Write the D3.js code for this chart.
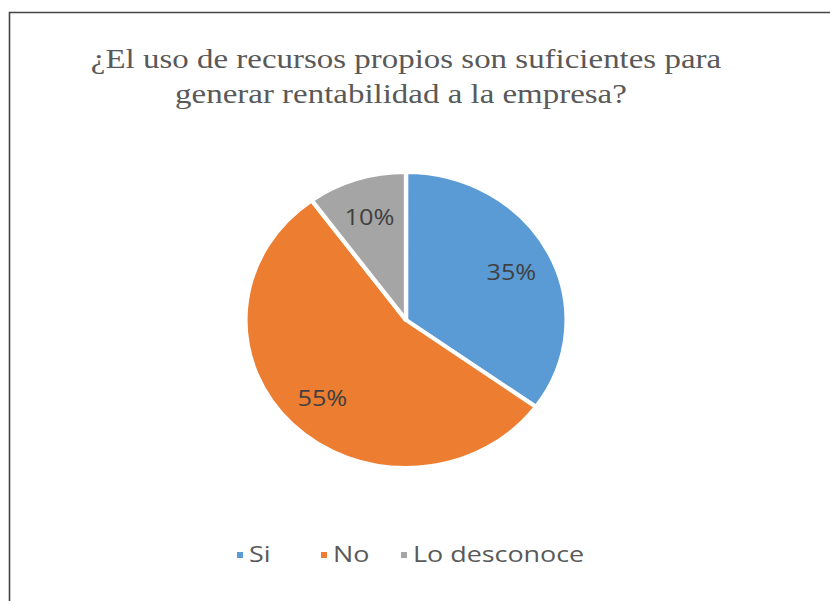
<!DOCTYPE html>
<html lang="es">
<head>
<meta charset="UTF-8">
<title>Recursos propios y rentabilidad</title>
<script src="https://d3js.org/d3.v7.min.js"></script>
<style>
  html, body { margin: 0; padding: 0; background: #fff; }
  .title { font-family: 'Liberation Serif', 'Times New Roman', serif; font-size: 27px; fill: #595959; }
  .lbl { font-family: 'Open Sans', sans-serif; font-size: 22px; fill: #404040; }
  .legend text { font-family: 'Open Sans', sans-serif; font-size: 21px; fill: #595959; }
</style>
</head>
<body>
<svg width="830" height="601"></svg>
<script>
  const categories = ["Si", "No", "Lo desconoce"];
  const values = [35, 55, 10];
  const colors = ["#5b9bd5", "#ed7d31", "#a5a5a5"];
  const titleLines = ["¿El uso de recursos propios son suficientes para",
                      "generar rentabilidad a la empresa?"];

  const svg = d3.select("svg");

  // frame (only left and top edges show in the picture)
  svg.append("path")
    .attr("d", "M9.5,601 L9.5,12.5 L830,12.5")
    .attr("fill", "none")
    .attr("stroke", "#444")
    .attr("stroke-width", 1.6);

  // the source picture is stretched sideways, text more than the pie
  function stretch(sel, k) {
    sel.each(function() {
      const w = this.getComputedTextLength();
      d3.select(this).attr("textLength", w * k).attr("lengthAdjust", "spacingAndGlyphs");
    });
  }

  // title
  svg.selectAll(".title")
    .data(titleLines)
    .join("text")
    .attr("class", "title")
    .attr("text-anchor", "middle")
    .attr("x", (d, i) => i ? 401 : 406)
    .attr("y", (d, i) => 68 + i * 35)
    .text(d => d)
    .call(stretch, 1.22);

  // pie
  const cx = 406, cy = 320, r = 148, sx = 1.085;
  const pie = d3.pie().sort(null).value(d => d.v);
  const arcs = pie(categories.map((c, i) => ({ c: c, v: values[i] })));
  const arc = d3.arc().innerRadius(0).outerRadius(r);
  const labelArc = d3.arc().innerRadius(109).outerRadius(109);

  svg.append("g")
    .attr("transform", `translate(${cx},${cy}) scale(${sx},1)`)
    .selectAll("path")
    .data(arcs)
    .join("path")
    .attr("d", arc)
    .attr("fill", (d, i) => colors[i])
    .attr("stroke", "#fff")
    .attr("stroke-width", 4)
    .attr("stroke-linejoin", "round");

  svg.append("g")
    .selectAll("text")
    .data(arcs)
    .join("text")
    .attr("class", "lbl")
    .attr("text-anchor", "middle")
    .attr("dominant-baseline", "central")
    .attr("x", d => cx + labelArc.centroid(d)[0] * sx)
    .attr("y", d => cy + labelArc.centroid(d)[1])
    .text(d => d.data.v + "%")
    .call(stretch, 1.15);

  // legend
  const legendX = [237, 321, 401];
  const lg = svg.append("g").attr("class", "legend");
  const item = lg.selectAll("g")
    .data(categories)
    .join("g")
    .attr("transform", (d, i) => `translate(${legendX[i]},555)`);
  item.append("rect")
    .attr("x", 0).attr("y", -3)
    .attr("width", 6).attr("height", 6)
    .attr("fill", (d, i) => colors[i]);
  item.append("text")
    .attr("x", 12)
    .attr("dy", "0.35em")
    .text(d => d)
    .call(stretch, 1.28);
</script>
</body>
</html>
